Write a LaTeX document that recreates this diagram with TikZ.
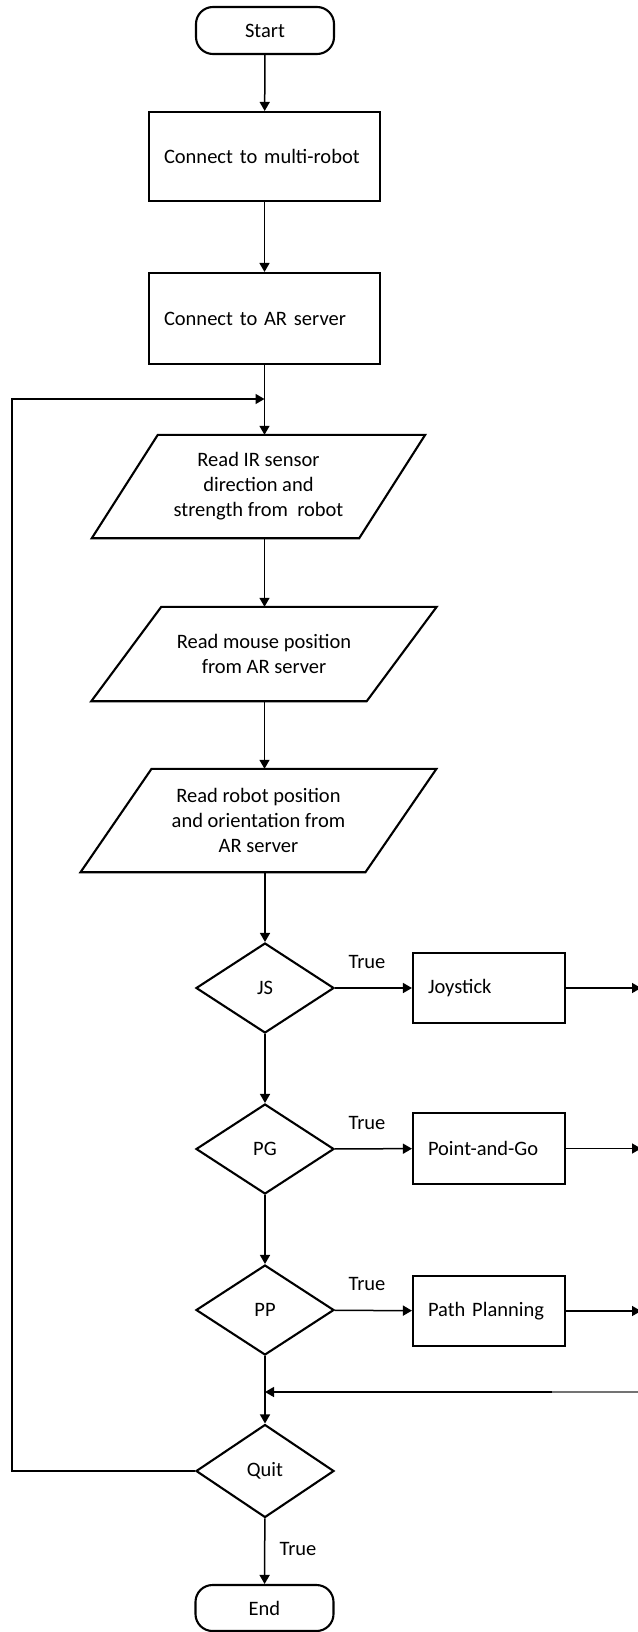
\documentclass[tikz,border=0pt]{standalone}
\usepackage{fontspec}
\setmainfont{Carlito}
\usetikzlibrary{shapes.geometric, arrows.meta}
% outline of an input/output step: #1 node name, #2 half of the slant offset
\newcommand\ioframe[2]{%
  \draw[outline] ([xshift=#2pt]#1.north west) -- ([xshift=#2pt]#1.north east)
    -- ([xshift=-#2pt]#1.south east) -- ([xshift=-#2pt]#1.south west) -- cycle;}
\begin{document}
\begin{tikzpicture}[x=1pt, y=-1pt,
  font=\fontsize{20.5}{25}\selectfont,
  outline/.style={draw, line width=2.1pt},
  termnode/.style={outline, rectangle, rounded corners=17pt,
    minimum width=138pt, minimum height=47pt, inner sep=0pt},
  procbox/.style={outline, rectangle, align=left, inner xsep=15pt,
    inner ysep=0pt},
  decision/.style={outline, diamond, minimum width=138pt,
    minimum height=90pt, inner sep=0pt},
  iobox/.style={rectangle, align=center, inner sep=0pt},
  conn/.style={line width=1.5pt, -{Triangle[length=9pt, width=10pt]}},
  truelab/.style={inner sep=0pt}
]
\useasboundingbox (0,0) rectangle (637,1632);

% start and set-up steps
\node[termnode] (start) at (265,30.5) {Start};
\node[procbox, text width=201pt, minimum height=89pt] (b1) at (264.5,156.5)
  {Connect to multi-robot};
\node[procbox, text width=201pt, minimum height=91pt] (b2) at (264.5,318.5)
  {Connect to AR server};

% input steps
\node[iobox, minimum width=267pt, minimum height=103pt] (p1) at (258.5,486.5)
  {Read IR sensor\\direction and\\strength from~ robot};
\node[iobox, minimum width=275pt, minimum height=94pt] (p2) at (264,654)
  {Read mouse position\\from AR server};
\node[iobox, minimum width=284.5pt, minimum height=103pt] (p3) at (258.5,820.5)
  {Read robot position\\and orientation from\\AR server};
\ioframe{p1}{33}
\ioframe{p2}{35}
\ioframe{p3}{35.5}

% mode decisions
\node[decision] (js) at (265,988) {JS};
\node[decision] (pg) at (265,1149) {PG};
\node[decision] (pp) at (265,1310) {PP};
\node[decision, minimum height=93pt] (quit) at (265,1471) {Quit};
\node[termnode, minimum height=46pt] (end) at (264.5,1608) {End};

% control modes
\node[procbox, text width=122pt, minimum height=70pt] (jb) at (489,988) {Joystick};
\node[procbox, text width=122pt, minimum height=71pt] (gb) at (489,1148.5) {Point-and-Go};
\node[procbox, text width=122pt, minimum height=70pt] (pb) at (489,1311) {Path Planning};

% labels
\node[truelab] (t1) at (367,962) {True};
\node[truelab] (t2) at (367,1123) {True};
\node[truelab] (t3) at (367,1284) {True};
\node[truelab] (t4) at (298,1549) {True};

% junction points
\coordinate (loopj) at (264.5,399);
\coordinate (lc) at (12,399);
\coordinate (mj) at (265,1392);
\coordinate (mg) at (552,1392);
\coordinate (mr) at (641,1392);
\coordinate (jr) at (641,988);
\coordinate (gr) at (641,1148.5);
\coordinate (pr) at (641,1311);

% main flow
\draw[conn] (start) -- (b1);
\draw[conn] (b1) -- (b2);
\draw[conn] (b2.south) -- (b2.south |- p1.north);
\draw[conn] (b2.south |- p1.south) -- (b2.south |- p2.north);
\draw[conn] (b2.south |- p2.south) -- (b2.south |- p3.north);
\draw[conn] (js.north |- p3.south) -- (js.north);
\draw[conn] (js) -- (pg);
\draw[conn] (pg) -- (pp);
\draw[conn] (pp) -- (quit);
\draw[conn] (quit) -- (end);

% branches
\draw[conn] (js) -- (jb);
\draw[conn] (pg) -- (gb);
\draw[conn] (pp) -- (pb);
\draw[conn] (jb) -- (jr);
\draw[conn] (gb) -- (gr);
\draw[conn] (pb) -- (pr);

% merge and loop back
\draw[line width=1.5pt, black!55] (mr) -- (mg);
\draw[conn] (mg) -- (mj);
\draw[conn] (quit.west) -| (lc) -- (loopj);
\end{tikzpicture}
\end{document}
